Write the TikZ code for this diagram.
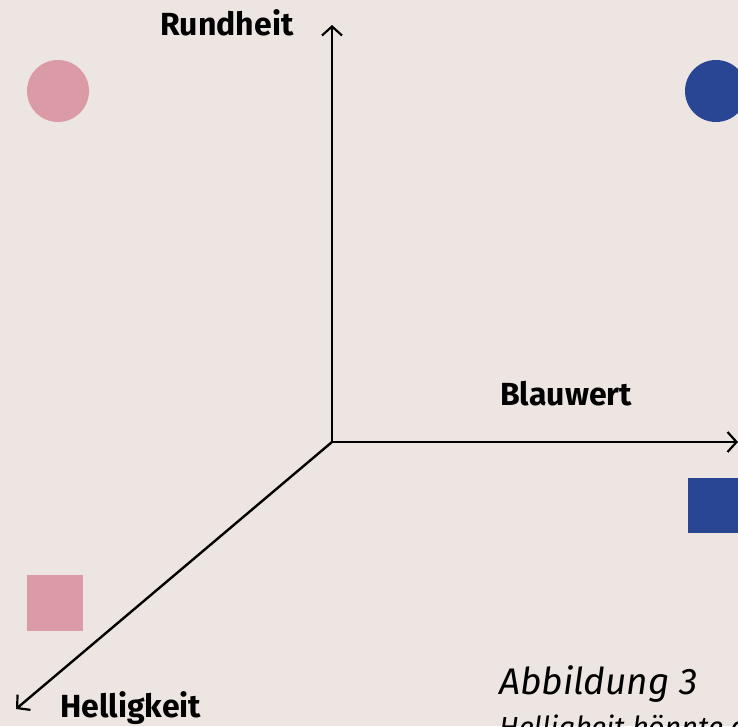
\documentclass[tikz,border=0pt]{standalone}
\usepackage{fontspec}
\setmainfont{Fira Sans}
\usepackage{xcolor}
\usetikzlibrary{arrows.meta}
\usetikzlibrary{positioning}
\definecolor{bgcol}{HTML}{EDE5E2}
\definecolor{pinkcol}{HTML}{DA9AA6}
\definecolor{bluecol}{HTML}{284694}
\tikzset{
  AxisLine/.style={-{Straight Barb[length=9pt,width=20pt,line width=2.2pt]}, line width=2.4pt, draw=black},
  AxisLabel/.style={anchor=base west, inner sep=0pt, font=\fontsize{32}{36}\selectfont\bfseries},
  CaptionText/.style={anchor=base west, inner sep=0pt, font=\itshape},
}

\begin{document}
\begin{tikzpicture}[x=1pt,y=-1pt]
\useasboundingbox[fill=bgcol] (0,0) rectangle (738,726);
% axes
\coordinate (O) at (332,442);
\coordinate (R) at (332,25);
\coordinate (B) at (738,442);
\coordinate (H) at (16,709);
\draw[AxisLine] (O) -- (R);
\draw[AxisLine] (O) -- (B);
\draw[AxisLine] (O) -- (H);
\node[AxisLabel] (rund) at (160,35) {Rundheit};
\node[AxisLabel] (blau) at (500,405) {Blauwert};
\node[AxisLabel] (hell) at (60,717) {Helligkeit};
% objects
\fill[pinkcol] (58,91) circle (31);
\fill[bluecol] (716,91) circle (31);
\fill[pinkcol] (27,575) rectangle (83,631);
\fill[bluecol] (688,478) rectangle (743,533);
% caption
\node[CaptionText, font=\fontsize{37}{42}\selectfont\itshape] (abb) at (499,694) {Abbildung 3};
\node[CaptionText, font=\fontsize{29}{34}\selectfont\itshape] (cap) at (499,737) {Helligkeit könnte durch};
\end{tikzpicture}
\end{document}
